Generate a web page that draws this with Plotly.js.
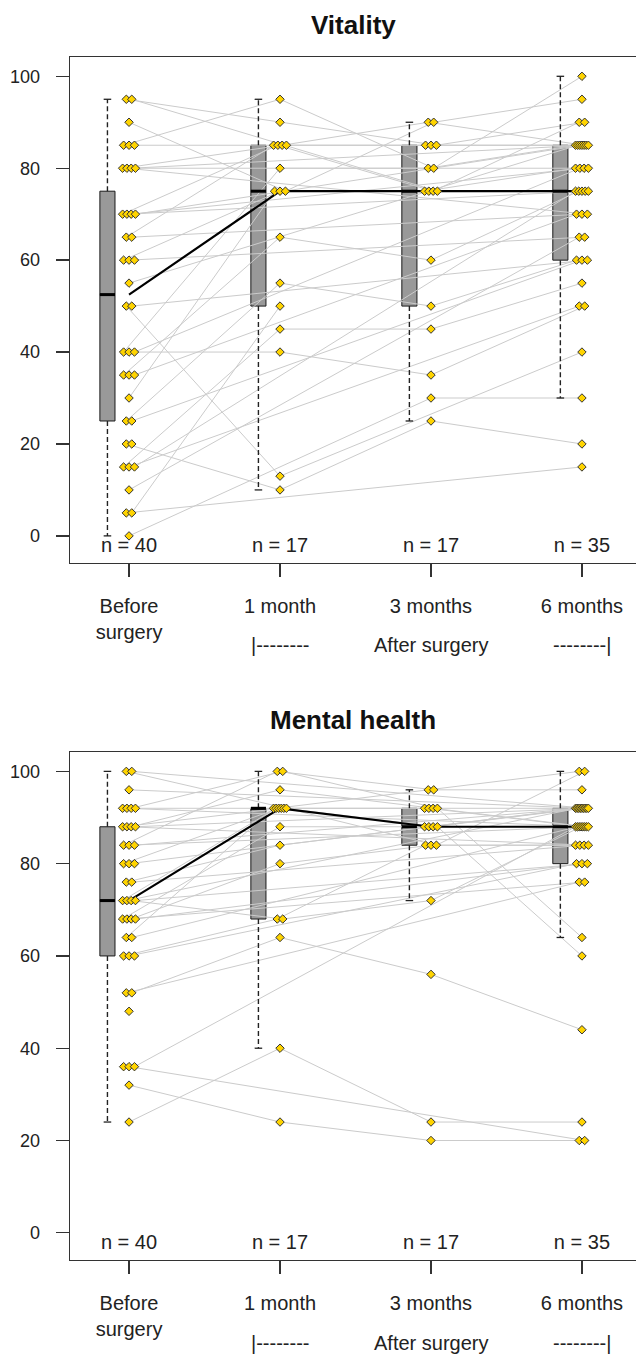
<!DOCTYPE html>
<html><head><meta charset="utf-8">
<script src="https://cdn.plot.ly/plotly-3.0.1.min.js"></script>
<style>html,body{margin:0;padding:0;background:#fff;overflow:hidden}</style>
</head><body><div id="chart" style="width:636px;height:1355px"></div>
<script>
// ---- data (one entry per patient, null = not measured) ----
const timeLabels = ["Before<br>surgery", "1 month", "3 months", "6 months"];
const timePos = [1, 2, 3, 4];
const panelTitles = ["Vitality", "Mental health"];
const bracketLeft = "|--------";
const bracketMid = "After surgery";
const bracketRight = "--------|";
const yTicks = [0, 20, 40, 60, 80, 100];

const vitBefore = [0,5,5,10,15,15,15,20,20,25,25,30,35,35,35,40,40,40,50,50,55,60,60,60,65,65,70,70,70,70,80,80,80,80,85,85,85,90,95,95];
const vit1m = [null,null,50,null,45,null,null,10,null,55,null,75,65,null,null,80,40,null,13,null,null,75,null,null,85,null,85,null,null,null,85,null,null,null,95,85,null,75,90,null];
const vit3m = [30,null,null,null,45,null,null,25,null,50,null,75,60,null,null,80,35,null,null,null,null,75,null,null,85,null,75,null,null,null,90,null,null,null,80,85,null,90,85,75];
const vit6m = [30,15,null,65,55,50,75,20,null,60,60,80,75,null,70,85,50,80,40,60,85,75,65,null,85,70,90,75,80,85,85,70,85,80,100,85,null,95,90,75];

const mhBefore = [24,32,36,36,36,48,52,52,60,60,60,64,64,68,68,68,68,72,72,72,72,76,76,80,80,80,84,84,84,88,88,88,88,92,92,92,92,96,100,100];
const mh1m = [40,24,null,null,null,null,null,64,68,null,null,92,null,88,null,80,null,92,null,68,null,84,null,92,null,null,100,null,null,92,null,96,null,92,null,100,null,null,92,null];
const mh3m = [24,20,null,null,null,null,null,56,84,null,null,92,null,88,null,84,null,96,null,72,null,88,null,92,null,null,96,null,null,88,null,92,null,88,null,92,null,null,84,null];
const mh6m = [24,20,null,20,88,null,76,44,84,80,null,92,88,88,76,84,80,100,92,88,80,92,84,88,92,null,96,88,92,92,84,88,92,60,88,64,null,92,100,92];

// ---- helpers ----
function fivenum(vals) {
  const x = vals.filter(v => v !== null).sort((a, b) => a - b);
  const n = x.length;
  const n4 = Math.floor((n + 3) / 2) / 2;
  const d = [1, n4, (n + 1) / 2, n + 1 - n4, n];
  const f = d.map(k => 0.5 * (x[Math.floor(k) - 1] + x[Math.ceil(k) - 1]));
  const iqr = f[3] - f[1];
  const lo = Math.min(...x.filter(v => v >= f[1] - 1.5 * iqr));
  const hi = Math.max(...x.filter(v => v <= f[3] + 1.5 * iqr));
  return {q1: f[1], med: f[2], q3: f[3], lo: lo, hi: hi, n: n};
}

const boxShift = -0.143, boxW = 0.1, capW = 0.05, spread = 0.036, maxSpan = 0.085;
const traces = [];
const annotations = [];
const panels = [
  {series: [vitBefore, vit1m, vit3m, vit6m], xa: 'x', ya: 'y', titleY: 25, bracketY: 645},
  {series: [mhBefore, mh1m, mh3m, mh6m], xa: 'x2', ya: 'y2', titleY: 720, bracketY: 1343}
];

panels.forEach((p, pi) => {
  const nPat = p.series[0].length;
  // x positions: ties spread side by side (overlapping when many)
  const xs = p.series.map((s, ti) => {
    const groups = {};
    s.forEach((v, i) => { if (v !== null) (groups[v] = groups[v] || []).push(i); });
    const out = new Array(nPat).fill(null);
    Object.values(groups).forEach(g => {
      const step = g.length > 1 ? Math.min(spread, maxSpan / (g.length - 1)) : 0;
      g.forEach((idx, k) => { out[idx] = timePos[ti] + (k - (g.length - 1) / 2) * step; });
    });
    return out;
  });
  // patient lines
  const lx = [], ly = [];
  for (let i = 0; i < nPat; i++) {
    for (let t = 0; t < 4; t++) {
      if (p.series[t][i] !== null) { lx.push(xs[t][i]); ly.push(p.series[t][i]); }
    }
    lx.push(null); ly.push(null);
  }
  traces.push({type: 'scatter', mode: 'lines', x: lx, y: ly, xaxis: p.xa, yaxis: p.ya,
    line: {color: '#cbcbcb', width: 1}, hoverinfo: 'skip', showlegend: false});

  const stats = p.series.map(fivenum);
  const bx = timePos.map(t => t + boxShift);
  traces.push({type: 'box', x: bx, q1: stats.map(s => s.q1), median: stats.map(s => s.med),
    q3: stats.map(s => s.q3), lowerfence: stats.map(s => s.q1), upperfence: stats.map(s => s.q3),
    width: boxW, fillcolor: '#999999', line: {color: '#1a1a1a', width: 1}, whiskerwidth: 0,
    boxpoints: false, hoverinfo: 'skip', showlegend: false, xaxis: p.xa, yaxis: p.ya});

  // whiskers (dashed), caps, thick medians
  const wx = [], wy = [], cx = [], cy = [], mx = [], my = [];
  stats.forEach((s, k) => {
    wx.push(bx[k], bx[k], null, bx[k], bx[k], null);
    wy.push(s.q3, s.hi, null, s.q1, s.lo, null);
    cx.push(bx[k] - capW / 2, bx[k] + capW / 2, null, bx[k] - capW / 2, bx[k] + capW / 2, null);
    cy.push(s.hi, s.hi, null, s.lo, s.lo, null);
    mx.push(bx[k] - boxW / 2, bx[k] + boxW / 2, null);
    my.push(s.med, s.med, null);
  });
  traces.push({type: 'scatter', mode: 'lines', x: wx, y: wy, xaxis: p.xa, yaxis: p.ya,
    line: {color: '#222', width: 1.4, dash: '5px,3px'}, hoverinfo: 'skip', showlegend: false});
  traces.push({type: 'scatter', mode: 'lines', x: cx, y: cy, xaxis: p.xa, yaxis: p.ya,
    line: {color: '#222', width: 1.3}, hoverinfo: 'skip', showlegend: false});
  traces.push({type: 'scatter', mode: 'lines', x: mx, y: my, xaxis: p.xa, yaxis: p.ya,
    line: {color: '#000', width: 3}, hoverinfo: 'skip', showlegend: false});
  // median trend line
  traces.push({type: 'scatter', mode: 'lines', x: timePos, y: stats.map(s => s.med), xaxis: p.xa, yaxis: p.ya,
    line: {color: '#000', width: 2.2}, hoverinfo: 'skip', showlegend: false});

  // points
  const px = [], py = [];
  p.series.forEach((s, t) => s.forEach((v, i) => { if (v !== null) { px.push(xs[t][i]); py.push(v); } }));
  traces.push({type: 'scatter', mode: 'markers', x: px, y: py, xaxis: p.xa, yaxis: p.ya,
    marker: {symbol: 'diamond', size: 6.5, color: '#FFD400', line: {color: '#333', width: 1}},
    hoverinfo: 'skip', showlegend: false});

  // n labels
  traces.push({type: 'scatter', mode: 'text', x: timePos, y: timePos.map(() => -2.4),
    text: stats.map(s => 'n = ' + s.n), textposition: 'middle center', cliponaxis: false,
    textfont: {size: 20, color: '#222', family: 'Liberation Sans, Arial, sans-serif'},
    xaxis: p.xa, yaxis: p.ya, hoverinfo: 'skip', showlegend: false});

  annotations.push({text: panelTitles[pi], xref: 'paper', yref: 'paper', x: 353 / 636, y: 1 - p.titleY / 1355,
    xanchor: 'center', yanchor: 'middle', showarrow: false,
    font: {size: 26, color: '#111', weight: 'bold'}});
  [[bracketLeft, 2], [bracketMid, 3], [bracketRight, 4]].forEach(b => {
    annotations.push({text: b[0], xref: p.xa, yref: 'paper', x: b[1], y: 1 - p.bracketY / 1355,
      xanchor: 'center', yanchor: 'middle', showarrow: false, font: {size: 20, color: '#222'}});
  });
});

function xAxis(anchor) {
  return {domain: [70 / 636, 1], range: [0.609, 4.358], anchor: anchor, tickvals: timePos, ticktext: timeLabels,
    ticks: 'outside', ticklen: 13, tickwidth: 1.3, tickcolor: '#333', showline: true, mirror: true,
    linecolor: '#333', linewidth: 1.3, showgrid: false, zeroline: false, ticklabelstandoff: 12,
    tickfont: {size: 20, color: '#222'}, fixedrange: true};
}
function yAxis(anchor, dom) {
  return {domain: dom, range: [-5.9, 104.2], anchor: anchor, tickvals: yTicks,
    ticks: 'outside', ticklen: 13, tickwidth: 1.3, tickcolor: '#333', showline: true, mirror: false,
    linecolor: '#333', linewidth: 1.3, showgrid: false, zeroline: false, ticklabelstandoff: 12,
    tickfont: {size: 18, color: '#222'}, fixedrange: true};
}

const layout = {
  width: 636, height: 1355, margin: {l: 0, r: 0, t: 0, b: 0},
  paper_bgcolor: '#fff', plot_bgcolor: '#fff',
  font: {family: 'Liberation Sans, Arial, sans-serif', color: '#222'},
  showlegend: false,
  xaxis: xAxis('y'), yaxis: yAxis('x', [1 - 563 / 1355, 1 - 57 / 1355]),
  xaxis2: xAxis('y2'), yaxis2: yAxis('x2', [1 - 1260 / 1355, 1 - 752 / 1355]),
  annotations: annotations
};

Plotly.newPlot('chart', traces, layout, {displayModeBar: false, staticPlot: true});
</script></body></html>
